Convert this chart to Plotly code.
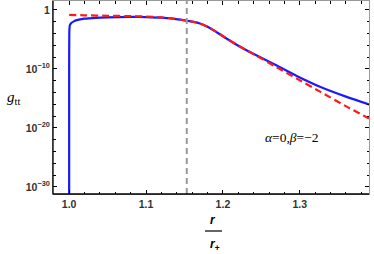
import plotly.graph_objects as go

# Blue curve (solid): r/r+ and log10(g_tt)
r_blue = [1.0, 1.0, 1.0002, 1.0005, 1.001, 1.003, 1.006, 1.01, 1.02, 1.035, 1.05, 1.08, 1.10, 1.12, 1.135,
          1.144, 1.153, 1.16, 1.165, 1.17, 1.175, 1.18, 1.188, 1.201, 1.223, 1.244, 1.266, 1.296, 1.327,
          1.361, 1.39]
lg_blue = [-33, -10, -4.0, -3.0, -2.6, -2.2, -1.95, -1.75, -1.5, -1.35, -1.28, -1.2, -1.22, -1.32, -1.5,
           -1.66, -1.85, -2.0, -2.12, -2.3, -2.55, -2.85, -3.45, -4.55, -6.3, -7.75, -9.16, -11.2, -13.07,
           -14.75, -16.02]

# Red curve (dashed)
r_red = [1.0, 1.02, 1.05, 1.08, 1.10, 1.12, 1.135, 1.144, 1.153, 1.16, 1.165, 1.17, 1.175, 1.18, 1.188,
         1.201, 1.223, 1.244, 1.266, 1.296, 1.327, 1.361, 1.39]
lg_red = [-0.85, -0.92, -1.0, -1.07, -1.13, -1.28, -1.46, -1.63, -1.85, -2.0, -2.12, -2.3, -2.55, -2.85,
          -3.45, -4.55, -6.3, -7.8, -9.44, -11.65, -13.9, -16.4, -18.4]

r_horizon_line = 1.153

x_major = [1.0, 1.1, 1.2, 1.3]
x_major_text = ["1.0", "1.1", "1.2", "1.3"]
y_major_exp = [-30, -20, -10, 0]
y_major_text = ["10<sup>−30</sup>", "10<sup>−20</sup>", "10<sup>−10</sup>", "1"]

g_blue = [10 ** v for v in lg_blue]
g_red = [10 ** v for v in lg_red]

W, H = 374, 254
ML, MR, MT, MB = 53, 5, 1, 60
PW, PH = W - ML - MR, H - MT - MB


def px(x):
    return (x - ML) / PW


def py(y):
    return (H - MB - y) / PH


fig = go.Figure()
fig.add_trace(go.Scatter(x=r_blue, y=g_blue, mode="lines", line_shape="spline",
                         line=dict(color="#1a1aff", width=2.2, smoothing=0.5), showlegend=False,
                         hoverinfo="skip"))
fig.add_trace(go.Scatter(x=r_red, y=g_red, mode="lines", line_shape="spline",
                         line=dict(color="#ff1a1a", width=2.2, dash="7px,4px", smoothing=0.5),
                         showlegend=False, hoverinfo="skip"))

fig.add_shape(type="line", x0=r_horizon_line, x1=r_horizon_line, y0=0, y1=1, xref="x", yref="paper",
              line=dict(color="#999999", width=2, dash="6px,4px"))
# black left/bottom axis lines
fig.add_shape(type="line", x0=0, x1=1, y0=0, y1=0, xref="paper", yref="paper",
              line=dict(color="black", width=1.3))
fig.add_shape(type="line", x0=0, x1=0, y0=0, y1=1, xref="paper", yref="paper",
              line=dict(color="black", width=1.3))

minor_x = [round(0.98 + 0.02 * i, 2) for i in range(21)]
minor_y = [10 ** (-32 + 2 * i) for i in range(18)]

tfont = dict(family="Liberation Sans", size=10.5, color="#333333", weight="bold")

fig.update_xaxes(range=[0.979, 1.39], tickvals=x_major, ticktext=x_major_text,
                 ticks="inside", ticklen=4, tickcolor="black", tickwidth=1,
                 showline=True, linecolor="#999999", linewidth=1, mirror="allticks",
                 showgrid=False, zeroline=False, automargin=False, tickfont=tfont,
                 minor=dict(tickvals=minor_x, ticks="inside", ticklen=2.5, tickcolor="black", showgrid=False))
fig.update_yaxes(type="log", range=[-31.2, 1.5], tickvals=[10 ** e for e in y_major_exp], ticktext=y_major_text,
                 ticks="inside", ticklen=4, tickcolor="black", tickwidth=1,
                 showline=True, linecolor="#999999", linewidth=1, mirror="allticks",
                 showgrid=False, zeroline=False, automargin=False, tickfont=tfont,
                 minor=dict(tickvals=minor_y, ticks="inside", ticklen=2.5, tickcolor="black", showgrid=False))

ann = dict(xref="paper", yref="paper", showarrow=False, xanchor="center", yanchor="middle")
fig.add_annotation(x=px(13), y=py(98), text="<i>g</i><sub>tt</sub>",
                   font=dict(family="Liberation Serif", size=15, color="black"), **ann)
fig.add_annotation(x=px(292), y=py(137), text="<i>α</i>=0,<i>β</i>=−2",
                   font=dict(family="Liberation Serif", size=13.5, color="black"), **ann)
fig.add_annotation(x=px(213), y=py(220), text="<i>r</i>",
                   font=dict(family="Liberation Sans", size=12, color="black", weight="bold"), **ann)
fig.add_annotation(x=px(215), y=py(245), text="<i>r</i><sub>+</sub>",
                   font=dict(family="Liberation Sans", size=12, color="black", weight="bold"), **ann)
fig.add_shape(type="line", xref="paper", yref="paper",
              x0=px(205), x1=px(222), y0=py(231), y1=py(231),
              line=dict(color="black", width=1.2))

fig.update_layout(width=W, height=H, margin=dict(l=ML, r=MR, t=MT, b=MB),
                  plot_bgcolor="white", paper_bgcolor="white", hovermode=False)

fig.write_html("out.html", config={"displayModeBar": False, "staticPlot": True},
               post_script="document.body.style.margin='0';document.body.style.overflow='hidden';")
